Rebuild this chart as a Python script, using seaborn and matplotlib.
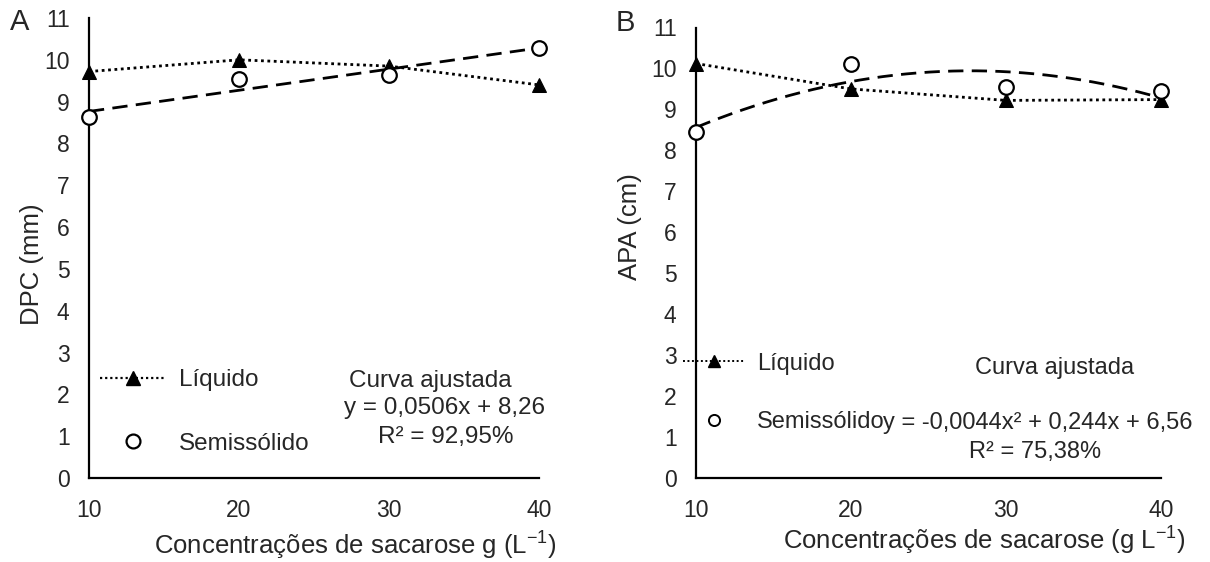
import numpy as np
import matplotlib
matplotlib.use("Agg")
import matplotlib.pyplot as plt
import seaborn as sns
from matplotlib.lines import Line2D

sns.set_style("white")
plt.rcParams["font.family"] = ["Liberation Sans", "DejaVu Sans"]
plt.rcParams["mathtext.fontset"] = "custom"
plt.rcParams["mathtext.rm"] = "Liberation Sans"
plt.rcParams["mathtext.it"] = "Liberation Sans:italic"
plt.rcParams["mathtext.default"] = "regular"

# Sucrose concentrations (g/L)
conc = [10, 20, 30, 40]

# Panel A: DPC (mm)
dpc_liquido = [9.72, 10.0, 9.85, 9.4]
dpc_semissolido = [8.64, 9.54, 9.64, 10.29]
dpc_fit = [0.0506, 8.26]          # linear: a*x + b
dpc_eq = "y = 0,0506x + 8,26"
dpc_r2 = "R² = 92,95%"

# Panel B: APA (cm)
apa_liquido = [10.12, 9.5, 9.22, 9.24]
apa_semissolido = [8.44, 10.1, 9.54, 9.44]
apa_fit = [-0.0044, 0.244, 6.56]  # quadratic: a*x^2 + b*x + c
apa_eq = "y = -0,0044x² + 0,244x + 6,56"
apa_r2 = "R² = 75,38%"

yticks = list(range(0, 12))
xticks = [10, 20, 30, 40]

W, H = 1210, 562
fig = plt.figure(figsize=(W / 100, H / 100), dpi=100)
axA = fig.add_axes([89 / W, 1 - 478 / H, (539 - 89) / W, (478 - 18) / H])
axB = fig.add_axes([696 / W, 1 - 478 / H, (1161 - 696) / W, (478 - 27.5) / H])

TICK_FS = 16.5
LABEL_FS = 18.5
TXT_FS = 17.5


def draw_panel(ax, liq, semi, coefs, ylabel, xlabel, ms):
    xs = np.linspace(10, 40, 200)
    ys = np.polyval(coefs, xs)
    sns.lineplot(x=xs, y=ys, ax=ax, color="black", linestyle=(0, (5.5, 3)),
                 linewidth=2.0)
    sns.lineplot(x=conc, y=liq, ax=ax, color="black", linestyle=(0, (1, 1.3)),
                 linewidth=2.0, marker="^", markersize=ms,
                 markeredgecolor="black", markerfacecolor="black")
    sns.scatterplot(x=conc, y=semi, ax=ax, marker="o", s=ms ** 2,
                    facecolor="white", edgecolor="black", linewidth=1.6,
                    zorder=5)
    for coll in ax.collections:
        coll.set_clip_on(False)
    for ln in ax.lines:
        ln.set_clip_on(False)
    ax.set_xlim(10, 40)
    ax.set_ylim(0, 11)
    ax.set_xticks(xticks)
    ax.set_yticks(yticks)
    ax.tick_params(axis="both", length=0, labelsize=TICK_FS)
    ax.tick_params(axis="y", pad=14)
    ax.tick_params(axis="x", pad=15)
    for s in ["top", "right"]:
        ax.spines[s].set_visible(False)
    for s in ["left", "bottom"]:
        ax.spines[s].set_color("black")
        ax.spines[s].set_linewidth(1.6)
    ax.set_ylabel(ylabel, fontsize=LABEL_FS)
    ax.set_xlabel(xlabel, fontsize=LABEL_FS)


draw_panel(axA, dpc_liquido, dpc_semissolido, dpc_fit, "DPC (mm)",
           "Concentrações de sacarose g (L$^{-1}$)", 10.5)
draw_panel(axB, apa_liquido, apa_semissolido, apa_fit, "APA (cm)",
           "Concentrações de sacarose (g L$^{-1}$)", 10.5)
axA.yaxis.set_label_coords(-0.10, 0.465)
axA.xaxis.set_label_coords(0.591, -0.112)
axB.yaxis.set_label_coords(-0.116, 0.559)
axB.xaxis.set_label_coords(0.621, -0.103)

# Legends
liqA = Line2D([], [], color="black", linestyle=(0, (1, 1.3)), linewidth=1.6,
              marker="^", markersize=10, markerfacecolor="black",
              markeredgecolor="black")
semA = Line2D([], [], color="none", marker="o", markersize=10,
              markerfacecolor="white", markeredgecolor="black",
              markeredgewidth=1.6)
axA.legend([liqA, semA], ["Líquido", "Semissólido"], frameon=False,
           fontsize=TXT_FS, handlelength=2.7, labelspacing=1.7,
           handletextpad=0.55, borderpad=0, borderaxespad=0,
           loc="center left",
           bbox_to_anchor=((100 - 89) / 450, (478 - 412) / 460))

liqB = Line2D([], [], color="black", linestyle=(0, (1, 1.3)), linewidth=1.4,
              marker="^", markersize=8, markerfacecolor="black",
              markeredgecolor="black")
semB = Line2D([], [], color="none", marker="o", markersize=8,
              markerfacecolor="white", markeredgecolor="black",
              markeredgewidth=1.4)
axB.legend([liqB, semB], ["Líquido", "Semissólido"], frameon=False,
           fontsize=17, handlelength=2.6, labelspacing=1.55,
           handletextpad=0.55, borderpad=0, borderaxespad=0,
           loc="center left",
           bbox_to_anchor=((683 - 696) / 465, (478 - 393) / 450.5))

# Fitted-curve annotations
axA.text(32.73, 2.33, "Curva ajustada", ha="center", va="center", fontsize=TXT_FS)
axA.text(33.67, 1.68, dpc_eq, ha="center", va="center", fontsize=TXT_FS)
axA.text(33.8, 0.98, dpc_r2, ha="center", va="center", fontsize=TXT_FS)

axB.text(33.14, 2.68, "Curva ajustada", ha="center", va="center", fontsize=17)
axB.text(22.09, 1.34, apa_eq, ha="left", va="center", fontsize=17)
axB.text(31.9, 0.63, apa_r2, ha="center", va="center", fontsize=17)

fig.text(10 / W, 1 - 22 / H, "A", fontsize=21, va="center", ha="left")
fig.text(616 / W, 1 - 23 / H, "B", fontsize=21, va="center", ha="left")

fig.savefig("out.png", dpi=100, facecolor="white")
